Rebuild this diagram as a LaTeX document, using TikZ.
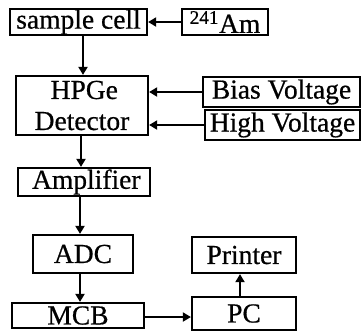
\documentclass[tikz,border=0pt]{standalone}
\usepackage{fontspec}
\setmainfont{Liberation Serif}[FakeBold=0.6]
\usetikzlibrary{arrows.meta}
\begin{document}
\begin{tikzpicture}[x=1pt,y=-1pt,
  blk/.style={draw,line width=2.2pt,inner sep=0pt,align=center,
    font=\fontsize{27.5}{31}\selectfont},
  arr/.style={line width=1.8pt,-{Triangle[length=8pt,width=9pt]}}]
\useasboundingbox (0,0) rectangle (363,333);
\node[blk,minimum width=137,minimum height=26] (sample) at (78.5,22) {sample cell};
\node[blk,minimum width=86,minimum height=26] (am) at (225,22) {\textsuperscript{241}Am};
\node[blk,minimum width=132,minimum height=59] (hpge) at (82,105.5) {\,HPGe\\Detector};
\node[blk,minimum width=157,minimum height=30] (bias) at (281.5,92) {Bias Voltage};
\node[blk,minimum width=155,minimum height=30] (high) at (282.5,125) {High Voltage};
\node[blk,minimum width=132,minimum height=28] (amp) at (84,182) {\,Amplifier};
\node[blk,minimum width=100,minimum height=38] (adc) at (83,254) {ADC};
\node[blk,minimum width=132,minimum height=25] (mcb) at (78,315.5) {MCB};
\node[blk,minimum width=104,minimum height=36] (printer) at (244,255) {Printer};
\node[blk,minimum width=104,minimum height=33] (pc) at (244,313.5) {PC};
\coordinate (c1) at (83,0);
\coordinate (c2) at (81,0);
\coordinate (c3) at (80,0);
\coordinate (c4) at (240,0);
\coordinate (r1) at (0,317);
\draw[arr] (am.west) -- (sample.east);
\draw[arr] (sample.south -| c1) -- (hpge.north -| c1);
\draw[arr] (bias.west) -- (bias.west -| hpge.east);
\draw[arr] (high.west) -- (high.west -| hpge.east);
\draw[arr] (hpge.south -| c2) -- (amp.north -| c2);
\draw[arr] (amp.south -| c3) -- (adc.north -| c3);
\draw[arr] (adc.south -| c3) -- (mcb.north -| c3);
\draw[arr] (mcb.east |- r1) -- (pc.west |- r1);
\draw[arr] (pc.north -| c4) -- (printer.south -| c4);
\end{tikzpicture}
\end{document}
